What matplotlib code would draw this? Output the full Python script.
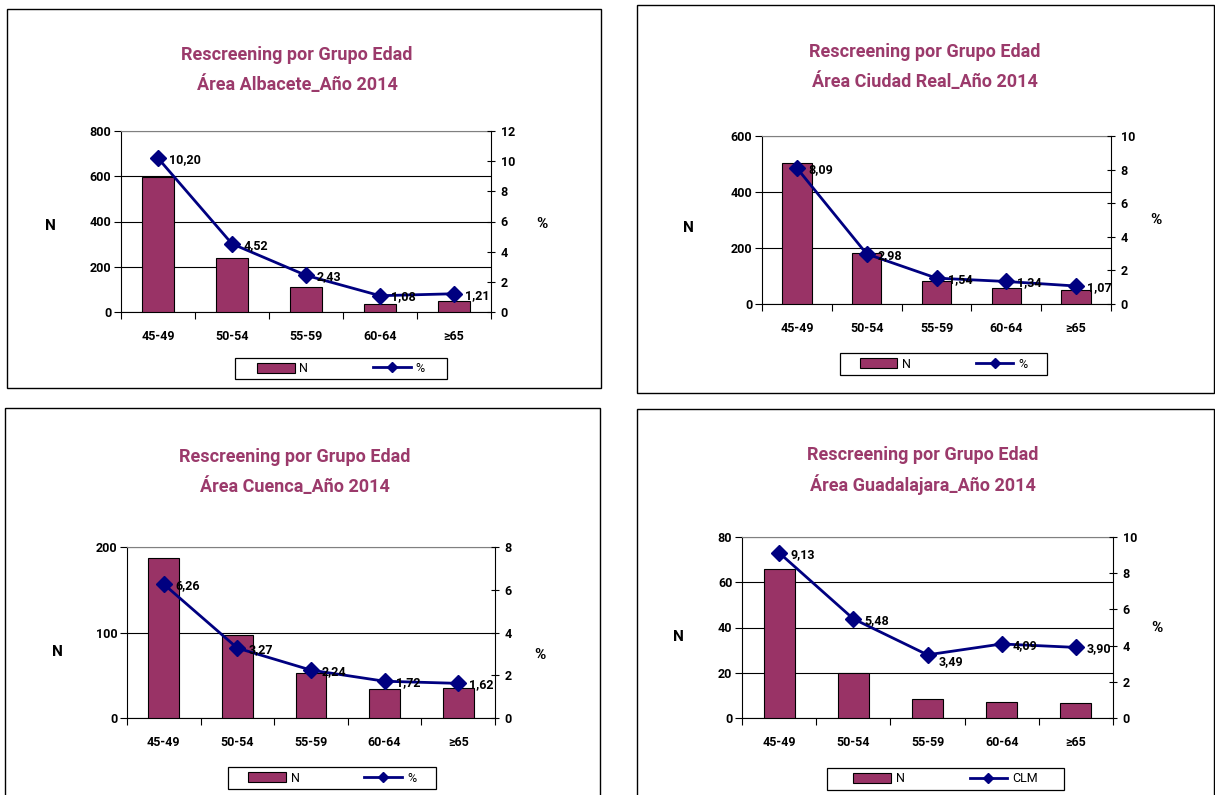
import matplotlib.pyplot as plt
from matplotlib.patches import Rectangle
from matplotlib.lines import Line2D
from matplotlib.ticker import MultipleLocator, FixedLocator, NullFormatter

plt.rcParams['font.family'] = ['Roboto', 'DejaVu Sans']

grupos = ["45-49", "50-54", "55-59", "60-64", "≥65"]

areas = ["Albacete", "Ciudad Real", "Cuenca", "Guadalajara"]
n_albacete = [595, 237, 112, 37, 50]
pct_albacete = [10.20, 4.52, 2.43, 1.08, 1.21]
n_ciudad_real = [504, 181, 82, 56, 50]
pct_ciudad_real = [8.09, 2.98, 1.54, 1.34, 1.07]
n_cuenca = [187, 97, 53, 34, 35]
pct_cuenca = [6.26, 3.27, 2.24, 1.72, 1.62]
n_guadalajara = [66, 20, 8.3, 7, 6.5]
pct_guadalajara = [9.13, 5.48, 3.49, 4.09, 3.90]
line_labels = ["%", "%", "%", "CLM"]

n_data = [n_albacete, n_ciudad_real, n_cuenca, n_guadalajara]
pct_data = [pct_albacete, pct_ciudad_real, pct_cuenca, pct_guadalajara]

BAR = "#993366"
LINE = "#000080"
TITLE = "#9B3A6B"

W, H = 1215, 795
# pixel layout of each panel (x0, y0, x1, y1), y from top
layout = [
    dict(box=(7, 9, 601, 388), ax=(121, 131, 491, 312), tx=297, ty=(55, 85),
         leg=(235, 358, 447, 379), nxy=(50, 226), pxy=(542, 224),
         ylim=(800, 200), y2lim=(12, 2), off=[(0, 0)] * 5),
    dict(box=(637, 5, 1214, 393), ax=(762, 136, 1111, 304), tx=925, ty=(52, 82),
         leg=(840, 353, 1047, 375), nxy=(688, 228), pxy=(1156, 220),
         ylim=(600, 200), y2lim=(10, 2), off=[(0, 0)] * 5),
    dict(box=(5, 408, 600, 820), ax=(127, 547, 495, 718), tx=295, ty=(457, 487),
         leg=(228, 767, 436, 789), nxy=(57, 652), pxy=(540, 655),
         ylim=(200, 100), y2lim=(8, 2), off=[(0, 0)] * 5),
    dict(box=(637, 409, 1214, 820), ax=(742, 537, 1113, 718), tx=923, ty=(455, 485),
         leg=(827, 768, 1064, 790), nxy=(678, 637), pxy=(1157, 628),
         ylim=(80, 20), y2lim=(10, 2), off=[(0, 0), (0, 0), (0, -4), (0, 0), (0, 0)]),
]


def fx(x):
    return x / W


def fy(y):
    return 1 - y / H


fig = plt.figure(figsize=(W / 100, H / 100), dpi=100)

for i, lay in enumerate(layout):
    bx0, by0, bx1, by1 = lay['box']
    fig.patches.append(Rectangle((fx(bx0), fy(by1)), fx(bx1 - bx0), (by1 - by0) / H,
                                 transform=fig.transFigure, fill=False,
                                 edgecolor='black', lw=1.0))

    x0, y0, x1, y1 = lay['ax']
    ax = fig.add_axes([fx(x0), fy(y1), fx(x1 - x0), (y1 - y0) / H])
    xs = list(range(len(grupos)))
    ax.bar(xs, n_data[i], width=0.42, color=BAR, edgecolor='black', lw=0.8, zorder=3)
    ax.set_xlim(-0.5, len(grupos) - 0.5)
    ax.set_ylim(0, lay['ylim'][0])
    ax.yaxis.set_major_locator(MultipleLocator(lay['ylim'][1]))
    ax.set_xticks(xs)
    ax.set_xticklabels(grupos)
    ax.xaxis.set_minor_locator(FixedLocator([k - 0.5 for k in range(len(grupos) + 1)]))
    ax.xaxis.set_minor_formatter(NullFormatter())
    ax.tick_params(axis='x', which='major', length=0, pad=13, labelsize=9)
    ax.tick_params(axis='x', which='minor', length=5, width=0.8, direction='out')
    ax.tick_params(axis='y', length=5, width=0.8, direction='out', labelsize=9, pad=2)
    for lbl in ax.get_xticklabels() + ax.get_yticklabels():
        lbl.set_fontweight('bold')
    ax.yaxis.grid(True, color='black', lw=0.8, zorder=1)
    ax.set_axisbelow(True)
    ax.spines['top'].set_color('#808080')
    ax.spines['right'].set_visible(False)
    for s in ['left', 'bottom']:
        ax.spines[s].set_linewidth(0.8)

    ax2 = ax.twinx()
    ax2.plot(xs, pct_data[i], color=LINE, lw=2.0, marker='D', markersize=8, zorder=4)
    ax2.set_ylim(0, lay['y2lim'][0])
    ax2.yaxis.set_major_locator(MultipleLocator(lay['y2lim'][1]))
    ax2.tick_params(axis='y', length=6, width=0.8, direction='inout', labelsize=9, pad=4)
    for lbl in ax2.get_yticklabels():
        lbl.set_fontweight('bold')
    for s in ['top', 'left', 'bottom']:
        ax2.spines[s].set_visible(False)
    ax2.spines['right'].set_linewidth(0.8)
    for k, v in enumerate(pct_data[i]):
        dx, dy = lay['off'][k]
        ax2.annotate(f"{v:.2f}".replace('.', ','), (k, v), xytext=(8 + dx, -1 + dy),
                     textcoords='offset points', ha='left', va='center',
                     fontsize=9, fontweight='bold', zorder=5)

    fig.text(fx(lay['tx']), fy(lay['ty'][0]), "Rescreening por Grupo Edad",
             ha='center', va='center', color=TITLE, fontsize=13, fontweight='bold')
    fig.text(fx(lay['tx']), fy(lay['ty'][1]), f"Área {areas[i]}_Año 2014",
             ha='center', va='center', color=TITLE, fontsize=13, fontweight='bold')
    fig.text(fx(lay['nxy'][0]), fy(lay['nxy'][1]), "N", ha='center', va='center',
             fontsize=11, fontweight='bold')
    fig.text(fx(lay['pxy'][0]), fy(lay['pxy'][1]), "%", ha='center', va='center',
             fontsize=11, fontweight='bold')

    # legend box drawn separately, legend itself without frame
    lx0, ly0, lx1, ly1 = lay['leg']
    fig.patches.append(Rectangle((fx(lx0), fy(ly1)), fx(lx1 - lx0), (ly1 - ly0) / H,
                                 transform=fig.transFigure, fill=False,
                                 edgecolor='black', lw=0.9))
    handles = [Rectangle((0, 0), 1, 1, facecolor=BAR, edgecolor='black', lw=0.8),
               Line2D([], [], color=LINE, lw=2.0, marker='D', markersize=5.5)]
    fig.legend(handles, ["N", line_labels[i]], ncol=2, loc='center',
               bbox_to_anchor=(fx((lx0 + lx1) / 2), fy((ly0 + ly1) / 2)),
               bbox_transform=fig.transFigure, fontsize=9, frameon=False,
               handlelength=3.0, handleheight=0.9, handletextpad=0.4,
               columnspacing=5.2, borderpad=0, borderaxespad=0)

fig.savefig("out.png", dpi=100)
